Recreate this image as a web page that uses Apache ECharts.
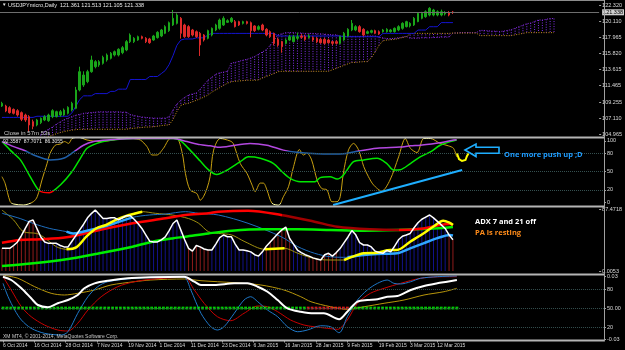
<!DOCTYPE html>
<html>
<head>
<meta charset="utf-8">
<script src="https://cdn.jsdelivr.net/npm/echarts@6.0.0/dist/echarts.min.js"></script>
<style>
html, body { margin: 0; padding: 0; background: #000; }
#main { width: 625px; height: 350px; }
</style>
</head>
<body>
<div id="main"></div>
<script>
var chartDom = document.getElementById('main');
var myChart = echarts.init(chartDom);

//------------- axis labels -------------
var tickIdx = [0, 8, 16, 24, 32, 40, 48, 56, 64, 72, 80, 88, 96, 104, 111];
var tickLabels = ['6 Oct 2014', '16 Oct 2014', '28 Oct 2014', '7 Nov 2014', '19 Nov 2014', '1 Dec 2014',
  '11 Dec 2014', '23 Dec 2014', '6 Jan 2015', '16 Jan 2015', '28 Jan 2015', '9 Feb 2015',
  '19 Feb 2015', '3 Mar 2015', '12 Mar 2015'];
var priceTicks = ['122.320', '120.110', '117.965', '115.820', '113.615', '111.465', '109.255', '107.110', '104.965'];
var oscTicks = ['100', '80', '50', '20', '0'];
var adxTicks = ['87.4718', '0.0053'];
var stoTickVals = [100.03, 80, 50, 20, -0.03];
var stoTickText = ['0.03', '80', '50.00', '20', '-0.03'];

//------------- price panel -------------
// [open, close, low, high]
var ohlc = [
  [108.73,109.09,108.60,109.30],[108.73,108.06,107.90,108.90],[108.51,107.84,107.70,108.70],[108.28,107.75,107.60,108.40],
  [108.10,107.52,107.30,108.30],[107.84,106.94,106.70,108.00],[107.52,106.85,106.60,107.70],[107.30,106.18,105.28,107.50],
  [106.63,106.00,105.60,106.90],[106.18,106.85,106.00,107.00],[106.49,107.07,106.30,107.20],[106.85,107.30,106.70,107.50],
  [106.76,107.52,106.60,107.70],[107.30,108.10,107.10,108.30],[107.30,107.97,107.20,108.10],[107.52,107.97,107.30,108.20],
  [107.52,108.19,107.40,108.40],[107.75,108.55,107.60,108.70],[108.19,109.09,108.00,109.30],[108.42,110.89,108.30,111.30],
  [110.89,113.35,110.70,114.02],[111.56,112.90,111.30,113.40],[112.01,113.35,111.80,113.60],[113.35,114.92,113.20,115.50],
  [114.02,114.70,113.80,114.90],[114.25,114.70,114.00,114.90],[114.47,115.28,114.30,115.50],[114.92,115.59,114.70,115.80],
  [115.15,115.82,115.00,116.00],[115.59,116.04,115.40,116.20],[115.59,116.36,115.40,116.50],[115.91,116.58,115.70,116.80],
  [116.27,117.39,116.10,117.60],[117.39,118.28,117.20,118.50],[117.39,117.84,117.20,118.00],[117.61,118.06,117.50,118.20],
  [118.06,117.84,117.70,118.20],[117.84,117.39,117.20,118.00],[117.75,117.25,117.10,117.90],[117.61,118.15,117.50,118.30],
  [117.93,118.64,117.80,118.80],[118.15,118.96,118.00,119.10],[118.51,119.41,118.40,119.60],[118.87,119.94,118.70,120.10],
  [119.63,120.53,119.50,121.65],[119.85,120.97,119.70,121.20],[120.53,118.51,117.80,120.70],[119.63,118.06,117.90,119.80],
  [119.41,118.06,117.90,119.60],[118.96,118.28,118.10,119.10],[118.73,118.06,117.90,118.90],[118.51,116.94,115.46,118.70],
  [118.28,117.61,117.40,118.40],[117.84,118.87,117.70,119.00],[118.28,119.18,118.10,119.30],[118.96,119.63,118.80,119.80],
  [119.18,120.30,119.00,120.50],[119.63,120.53,119.50,120.80],[119.99,120.21,119.90,120.40],[120.08,120.53,119.90,120.70],
  [120.08,119.41,119.30,120.30],[120.08,119.63,119.50,120.20],[119.85,120.08,119.70,120.20],[120.08,119.85,119.70,120.20],
  [119.94,118.87,117.97,120.10],[119.50,118.87,118.70,119.60],[119.05,119.41,118.90,119.60],[119.63,118.96,118.80,119.80],
  [119.05,118.28,118.10,119.20],[118.73,118.06,117.90,118.90],[118.51,117.16,116.90,118.60],[117.70,116.94,116.70,117.90],
  [117.39,116.71,115.90,117.50],[117.16,117.61,117.00,117.80],[117.61,118.06,117.50,118.30],[117.39,118.06,117.30,118.30],
  [117.84,118.06,117.60,118.60],[118.15,117.97,117.80,118.40],[118.06,117.70,117.50,118.30],[117.93,118.15,117.80,118.40],
  [117.93,117.61,117.40,118.10],[117.84,117.39,117.20,118.00],[117.70,117.25,117.10,117.90],[117.70,117.16,117.00,117.90],
  [117.61,117.25,117.10,117.80],[117.39,117.16,116.90,117.50],[117.39,117.16,117.00,117.60],[117.16,118.06,117.00,118.20],
  [117.61,118.51,117.50,118.70],[118.15,119.05,118.00,119.20],[118.96,119.85,118.80,120.30],[118.96,119.41,118.80,119.60],
  [119.41,118.73,118.60,119.60],[119.05,118.28,118.10,119.20],[118.51,118.73,118.40,118.90],[118.64,118.87,118.50,119.00],
  [118.87,118.51,118.40,119.00],[118.73,118.42,118.30,118.90],[118.73,118.96,118.60,119.10],[118.73,119.05,118.60,119.20],
  [118.73,118.96,118.60,119.10],[118.73,119.18,118.60,119.30],[118.96,119.41,118.80,119.60],[119.18,119.85,119.00,120.00],
  [119.41,120.08,119.30,120.20],[119.50,119.85,119.30,120.00],[119.63,120.53,119.50,120.70],[120.08,121.20,120.00,121.30],
  [120.53,121.20,120.40,121.40],[120.75,121.42,120.60,121.60],[120.97,121.87,120.80,122.03],[120.97,121.65,120.80,121.80],
  [120.97,121.42,120.80,121.60],[120.97,121.42,120.80,121.70],[121.11,121.29,120.90,121.50],[121.29,120.97,120.80,121.50],
  [121.361,121.338,121.105,121.513]
];
var lastClose = 121.338;

var kijun = [
  107.2,107.2,107.2,107.2,107.2,107.2,107.2,107.2,107.2,107.35,107.35,107.35,107.35,107.35,107.35,107.35,107.35,107.35,
  107.8,108.7,109.6,110.1,110.1,110.1,110.4,110.4,110.4,110.4,110.7,110.7,111.0,111.0,111.0,
  112.3,112.3,112.3,112.3,112.3,112.7,112.7,112.7,113.1,113.5,114.3,115.5,116.9,117.6,117.75,117.75,117.75,
  117.9,117.9,117.9,118.3,
  118.5,118.5,118.5,118.5,118.5,118.5,118.5,118.5,118.5,118.5,118.5,118.5,118.5,118.5,118.5,118.5,118.5,
  118.15,118.15,118.15,118.15,118.15,118.15,118.15,118.15,118.15,118.15,118.15,118.15,118.15,118.15,118.15,118.15,118.15,
  118.05,118.05,118.05,118.05,118.05,118.05,118.05,118.05,118.05,118.05,
  118.5,118.5,118.5,118.5,118.5,118.5,118.5,118.5,118.5,
  118.95,118.95,118.95,119.4,119.4,119.4,119.95,119.95,119.95,119.95
];

// cloud, from bar 10 to bar 142 (26 bars ahead)
var cloudStart = 10;
var spanA = [
  104.9,105.3,105.6,105.9,106.3,106.6,106.9,107.1,107.3,107.5,
  107.6,107.75,107.8,107.85,107.9,107.95,107.95,107.95,107.95,107.95,
  107.95,107.9,107.9,107.6,107.45,107.35,107.25,107.2,107.15,107.1,
  107.1,107.1,107.1,107.3,108.2,109.0,109.5,109.9,110.2,110.35,
  110.5,111.0,111.6,112.2,112.6,113.0,113.2,113.3,113.4,114.5,
  114.6,114.75,114.9,115.0,115.2,115.4,115.7,116.0,116.3,116.9,
  117.6,118.3,118.45,118.6,118.6,118.6,118.55,118.55,118.5,118.5,
  118.5,118.45,118.45,118.4,118.35,118.3,118.3,118.15,118.1,118.1,
  118.1,118.1,118.1,118.1,118.15,118.15,118.15,118.0,117.9,117.8,
  117.8,117.85,117.9,118.0,118.1,117.85,117.85,117.85,117.9,117.9,
  117.9,117.95,117.95,118.0,118.0,118.0,118.55,118.55,118.6,118.6,
  118.6,118.6,118.6,118.9,118.9,118.85,118.8,118.8,118.75,118.8,
  118.9,119.0,119.2,119.4,119.6,119.8,119.9,120.1,120.3,120.3,
  120.4,120.5,120.5
];
var spanB = [
  104.3,104.45,104.6,104.8,105.0,105.15,105.3,105.4,105.5,105.55,
  105.6,105.6,105.6,105.6,105.6,105.6,105.6,105.6,105.6,105.6,
  105.6,105.6,105.6,105.7,105.75,105.8,105.85,105.9,105.9,105.95,
  106.0,106.1,106.15,106.2,106.9,108.0,108.8,109.0,109.1,109.3,
  109.5,109.7,109.95,110.2,110.6,110.9,111.2,111.5,111.8,112.0,
  112.05,112.1,112.15,112.2,112.2,112.2,112.25,112.5,112.7,112.9,
  113.1,113.35,113.4,113.4,113.4,113.4,113.4,113.4,113.4,113.4,
  113.4,113.4,113.4,113.4,113.4,113.6,113.8,114.0,114.2,114.4,
  114.6,114.6,114.65,114.7,114.7,115.2,116.0,116.9,117.5,117.6,
  117.65,117.7,117.8,117.95,118.05,118.45,118.5,118.5,118.5,118.5,
  118.5,118.5,118.5,118.5,118.5,118.5,118.55,118.55,118.55,118.55,
  118.55,118.55,118.55,118.2,118.2,118.2,118.2,118.2,118.2,118.2,
  118.2,118.2,118.3,118.4,118.5,118.6,118.6,118.6,118.6,118.6,
  118.6,118.6,118.6
];

//------------- oscillator panel [bar, value] -------------
var osc1 = [[0,41.5],[0.8,30.6],[2.1,0.5],[3,-3.3],[5.5,-4.9],[8,0.5],[9,8.7],[10.2,36],[11.5,63],[12.3,80],
  [13.6,93],[14.9,95],[16,99],[17,96],[17.9,104],[19.5,106],[21.7,101.6],[25,99],[28.4,101.6],[32,106],[33.5,104],
  [35.3,101.6],[37,90.7],[38.3,77],[39.5,77],[41.2,88],[43,104],[44.6,104],[46,80],[46.8,47],[48,19.7],[49.7,14],
  [50.6,3],[51.4,8.7],[52.3,22],[53.1,41.5],[54,85],[55.7,104],[58.2,100],[59,96],[60.8,63],[62.5,47],[63.8,28],
  [64.6,17],[65.9,31],[66.7,31],[67.6,20],[68.9,-2],[70.6,-5],[71.8,8.7],[73.1,25],[74.4,58],[75.9,86],[76.9,77],
  [77.8,80],[79,69],[80.4,36],[81.6,22],[82.9,20],[84.2,0.5],[85.5,0.5],[86.3,8.7],[87.1,47],[88.4,85],[89.7,96],
  [91,85],[92.3,58],[93.5,41.5],[94.8,28],[96.9,18],[99,36],[101.2,74],[102.9,104],[104.2,88],[105.9,81],
  [107.6,104],[109.3,104],[111.8,96],[113.9,92],[115.2,88],[116,74]];
var osc2 = [[0,99],[2.1,85],[4.7,69],[7.2,41.5],[9.3,19.7],[10.6,15.8],[12.1,15.3],[14.9,28],[17.9,50],[20,71.6],
  [21.7,88],[24.2,96],[26.8,100.5],[33.5,104],[43.7,104],[45.5,100.5],[48,85],[50.6,67],[52.3,55],[54.8,45],
  [57.4,52],[60.8,66],[62.9,74],[65.9,71.6],[69.3,63],[71.4,50],[73.5,38.8],[76.1,33.3],[79.9,33.3],[81.2,40],
  [83.7,41.5],[85.5,37.7],[87.1,44],[89.7,66],[92.3,69],[95.7,71.6],[98.2,63],[99.9,52.5],[101.6,53],[104.2,63],
  [106.7,74],[109.3,82],[111.8,93],[114.4,99],[116,101.6]];
var osc3 = [[0,99],[3,90.7],[5.9,84],[8.1,77],[12.3,69],[15.7,71.6],[18.3,82],[20.8,93],[23.4,99],[26.8,101.6],
  [35.3,104],[43.7,104],[47.2,99],[50.6,94],[53.1,92],[55.7,89.6],[63.3,96],[67.6,93],[71.8,85],[75.3,81.5],
  [80.4,79],[84.6,78.7],[87.1,79],[89.7,82],[95.7,88],[101.6,90],[104.2,92],[106.7,93],[111.8,97],[115.2,101.6],[116,102]];
var trendLine = [[84.5,-5],[117.4,52.5]];

//------------- ADX panel -------------
var adx = [32,32,32,36,41,50,60,70,72,60,48,41,39,39,39,36,34,34,42,50,58,66,75,81,86,80,74,74,75,75,
  72,75,78,78,73,67,60,51,42,41,41,44,48,57,67,72,58,44,32,28,36,34,31,29.6,29.6,38,47,50.8,48.4,48.4,
  38,29.6,29.6,28.5,27,23,21,27,35,41,47,53,58,62,46,38,29.6,26,23,21,18.5,17,15.5,23,25,21,26,32,40,48,
  57,51,40,36.7,36.7,34,28,26,25,29,27,35,44,49,50.8,53,61,68,73,76,79,75,70,65,60,51,44];
var histSide = [[10,'r'],[38,'b'],[6,'r'],[14,'b'],[7,'r'],[4,'b'],[8,'r'],[28,'b'],[2,'r']];
var diPlus = [[0,86],[3,72],[5.5,55.5],[8.9,53],[10.6,48.4],[14,34.3],[16.6,30.6],[19.1,33.4],[21.7,48.4],[24.2,60],
  [26.8,65],[29.3,72],[32.7,79],[36.1,83.7],[39.5,81.4],[43.8,79],[48,74],[50.6,67.3],[53.1,55.5],[55.7,53],
  [59.1,50.8],[62.5,41.3],[67.6,30.6],[72.7,32],[76.1,25],[78.7,20],[81.2,16.5],[84.6,15.5],[88,15.5],[89.7,19.3],
  [93.1,25],[96.5,25.8],[99.9,29.6],[101.6,29.6],[105,41.3],[108.4,53],[110.9,62.5],[113.5,71],[115.2,68],[116,65]];
var diSlow = [[0,81.4],[4.7,74],[8.1,67],[12.3,60],[16.6,55.5],[18.3,53],[20.8,55.5],[25.1,61],[29.3,68],[33.6,75.7],
  [37.9,79],[42.1,80.4],[47.2,83.7],[50.6,81.4],[55.7,79],[63.3,67.3],[71.8,48.4],[76.1,34.3],[80.4,25],[84.6,20],
  [88.9,19.3],[93.1,22.6],[96.5,24],[101.6,25],[105,32],[108.4,39],[111.8,46],[115.2,50.8],[116,50]];
var adxSlowRed = [[0,40],[4.7,43.7],[9.8,44.7],[16.6,47.5],[25.1,57.8],[33.6,67.3],[42.1,74.3],[47.2,79],[53.1,81.4],
  [55.7,83.7],[63.3,85],[71.8,79],[80.4,69.6],[86.3,62.5],[94.8,58.8],[101.6,57.8],[108.4,60],[112.7,65],[115.2,66.3],[116,65]];
var adxSlowGreen = [[0,7],[8.1,10.8],[16.6,16.5],[25.1,25],[33.6,34.3],[38.7,41.3],[43.8,46],[47.2,48.4],[53.1,53],
  [59.1,56.9],[67.6,58.8],[76.1,58.8],[84.6,57.8],[93.1,56.9],[101.6,57.8],[110,59.5],[116,62]];
var yellowBold = [[16,37],[66,75],[88,117]];
var blueBold = [[16,34],[86,117]];

//------------- bottom panel -------------
var sto1 = [[0,99.5],[2.1,94.3],[4.7,81.2],[7.2,65.4],[8.9,54.8],[11.5,51.2],[14,57.5],[16.6,62.7],[19.1,70.6],[20.8,81.2],
  [23.4,89],[26.8,93.2],[31.9,97],[37.8,98.6],[46.3,99.5],[48.9,91.6],[50.6,86.4],[54,86.4],[59.1,89],[62.5,89],
  [65.1,83.7],[67.6,75.8],[70.2,62.7],[72.7,49.6],[76.1,44.2],[79.5,41.7],[82,41.7],[85.9,32.2],[88,44.2],[90.6,60],
  [93.1,62.7],[95.7,63.8],[98.2,67.9],[100.8,69],[104.2,78.5],[107.6,84.8],[111,89],[113.5,91.6],[116,94.3]];
var sto2 = [[0,102],[3.8,97],[8.1,83.7],[12.3,73.3],[15.7,70.6],[19.1,73.3],[23.4,78.5],[27.6,86.4],[33.6,91.6],[37.8,94.3],
  [46.3,95.9],[50.6,93.2],[59.1,90],[65.9,86.4],[71.8,78.5],[76.1,67.9],[78.7,60],[83.7,52.1],[88,48],[92.3,52.1],
  [97.4,57.5],[102.5,62.7],[107.6,70.6],[112.7,75.8],[116,81.2]];
var sto3 = [[0,99.5],[2.1,78.5],[4.7,52.1],[7.2,36.3],[10.6,23.2],[14,15.3],[16.6,13.7],[19.1,25.9],[21.7,46.9],[25.1,67.9],
  [29.3,83.7],[33.6,91.6],[37.8,95.4],[46.3,98.6],[48.9,78.5],[51.4,57.5],[54.8,36.3],[58.2,30],[61.6,41.7],[65.1,53.2],
  [67.6,52.1],[70.2,44.2],[73.5,31.1],[76.9,23.2],[79.5,20.5],[82.9,18],[85.5,16.4],[88,31.1],[90.6,57.5],[93.9,73.3],
  [97.4,81.2],[101.6,89],[106.7,97],[112.7,99.5],[116,99.5]];
var sto4 = [[0,89],[1.3,67.9],[3,46.9],[4.7,31.1],[7.2,18],[10.6,10.1],[14.9,7.4],[16.6,12.6],[19.1,41.7],[21.7,67.9],
  [24.2,83.7],[26.8,91.6],[33.6,97],[42.1,99.5],[46.3,98.6],[48,78.5],[50.6,41.7],[53.1,20.5],[54.8,15.3],[56.5,20.5],
  [59.1,41.7],[61.6,62.7],[63.3,67.9],[65.1,60],[67.6,46.9],[70.2,36.3],[72.7,20.5],[75.3,12.6],[77.8,15.3],[81.2,22],
  [83.7,20.5],[85.9,11],[88,36.3],[90.6,62.7],[93.1,78.5],[95.7,89],[98.2,94.3],[99.9,89],[101.6,88],[104.2,91.6],
  [106.7,97],[111,99.5],[116,100.6]];
var dotLevel = 50;
var dotSide = [[78,'g'],[11,'r'],[28,'g']];

//------------- build -------------
function expand(runs) {
  var out = [];
  runs.forEach(function (r) { for (var k = 0; k < r[0]; k++) out.push(r[1]); });
  return out;
}
function pick(points, ranges) {
  var out = [];
  ranges.forEach(function (r, j) {
    if (j > 0) out.push(['-', '-']);
    points.forEach(function (p) { if (p[0] >= r[0] && p[0] <= r[1]) out.push(p); });
  });
  return out;
}
function labelFmt(vals, texts) {
  return function (v) {
    for (var i = 0; i < vals.length; i++) { if (Math.abs(vals[i] - v) < 1e-9) return texts[i]; }
    return '';
  };
}
var tinyFont = 'Liberation Sans';

function xAx(gi, labels) {
  var ax = { type: 'value', gridIndex: gi, min: -0.5, max: 153.6,
    splitLine: { show: false }, axisLine: { show: false, onZero: false },
    axisTick: { show: false }, axisLabel: { show: false } };
  if (labels) {
    ax.axisTick = { show: true, customValues: tickIdx, length: 2, lineStyle: { color: '#a0a0a0' } };
    ax.axisLabel = { show: true, customValues: tickIdx, align: 'left', margin: 3,
      color: '#d8d8d8', fontSize: 5, fontFamily: tinyFont,
      formatter: function (v) { return tickLabels[tickIdx.indexOf(v)]; } };
  }
  return ax;
}
function yAx(gi, min, max, texts, vals) {
  vals = vals || texts.map(Number);
  return { type: 'value', gridIndex: gi, position: 'right', min: min, max: max, scale: true,
    splitLine: { show: false }, axisLine: { show: false, onZero: false },
    axisTick: { show: true, customValues: vals, length: 2, lineStyle: { color: '#a0a0a0' } },
    axisLabel: { customValues: vals, margin: 3, color: '#d8d8d8', fontSize: 5.5, fontFamily: tinyFont,
      formatter: labelFmt(vals, texts) } };
}

var candleData = ohlc.map(function (d, i) { return [i, d[0], d[1], d[2], d[3]]; });
var kijunData = kijun.map(function (v, i) { return [i, v]; });
var cloudData = spanA.map(function (a, i) { return [cloudStart + i, a, spanB[i]]; });
var spanAData = spanA.map(function (a, i) { return [cloudStart + i, a]; });
var spanBData = spanB.map(function (b, i) { return [cloudStart + i, b]; });
var histColors = expand(histSide);
var histData = adx.map(function (v, i) { return [i, v]; });
var dotColors = expand(dotSide);
var dotData = dotColors.map(function (c, i) { return [i, dotLevel]; });

var levelLine = function (levels) {
  return { silent: true, symbol: 'none', label: { show: false },
    lineStyle: { type: 'dotted', color: '#355050', width: 1 },
    data: levels.map(function (l) { return { yAxis: l }; }) };
};

var series = [
  { type: 'custom', xAxisIndex: 0, yAxisIndex: 0, clip: true, data: cloudData, z: 1,
    encode: { x: 0, y: [1, 2] },
    renderItem: function (params, api) {
      var x = api.value(0);
      var p1 = api.coord([x, api.value(1)]);
      var p2 = api.coord([x, api.value(2)]);
      return { type: 'line', shape: { x1: p1[0], y1: p1[1], x2: p2[0], y2: p2[1] },
        style: { stroke: '#7f2fe6', lineWidth: 1, lineDash: [1, 1.5] } };
    } },
  { type: 'line', xAxisIndex: 0, yAxisIndex: 0, data: spanAData, symbol: 'none', z: 2,
    lineStyle: { color: '#8a2be2', width: 1, type: [1, 1.5] } },
  { type: 'line', xAxisIndex: 0, yAxisIndex: 0, data: spanBData, symbol: 'none', z: 2,
    lineStyle: { color: '#c8901e', width: 1, type: [1, 1.5] } },
  { type: 'line', xAxisIndex: 0, yAxisIndex: 0, data: kijunData, symbol: 'none', z: 3,
    lineStyle: { color: '#1414d2', width: 1 } },
  { type: 'candlestick', xAxisIndex: 0, yAxisIndex: 0, data: candleData, z: 4,
    dimensions: ['bar', 'open', 'close', 'low', 'high'],
    encode: { x: 'bar', y: ['open', 'close', 'low', 'high'] },
    barWidth: 2,
    itemStyle: { color: '#1aa51a', color0: '#dd2a2a', borderColor: '#1aa51a', borderColor0: '#dd2a2a', borderWidth: 1 },
    markLine: { silent: true, symbol: 'none', data: [{ yAxis: lastClose }],
      lineStyle: { color: '#6e6e6e', type: 'solid', width: 1 },
      label: { show: true, position: 'end', distance: 3, formatter: String(lastClose),
        color: '#000', backgroundColor: '#d0d0d0', fontSize: 5.5, fontFamily: tinyFont, padding: [0, 1] } } },

  // oscillator panel
  { type: 'line', xAxisIndex: 1, yAxisIndex: 1, data: osc1, symbol: 'none', smooth: 0.3, z: 3,
    lineStyle: { width: 1 } },
  { type: 'line', xAxisIndex: 1, yAxisIndex: 1, data: osc2, symbol: 'none', smooth: 0.3, z: 4,
    lineStyle: { width: 1.5 } },
  { type: 'line', xAxisIndex: 1, yAxisIndex: 1, data: osc3, symbol: 'none', smooth: 0.3, z: 4,
    lineStyle: { width: 1.5 } },
  { type: 'line', xAxisIndex: 1, yAxisIndex: 1, data: trendLine, symbol: 'none', z: 5,
    lineStyle: { color: '#1eaeff', width: 2 }, markLine: levelLine([80, 50, 20]) },

  // ADX panel
  { type: 'bar', xAxisIndex: 2, yAxisIndex: 2, data: histData, barWidth: 1, z: 1,
    itemStyle: { color: function (p) { return histColors[p.dataIndex] === 'r' ? '#8e1c1c' : '#12128a'; } } },
  { type: 'line', xAxisIndex: 2, yAxisIndex: 2, data: diPlus, symbol: 'none', smooth: 0.3, z: 3,
    lineStyle: { color: '#a0900f', width: 1 } },
  { type: 'line', xAxisIndex: 2, yAxisIndex: 2, data: diSlow, symbol: 'none', smooth: 0.3, z: 3,
    lineStyle: { color: '#1f6fc0', width: 1 } },
  { type: 'line', xAxisIndex: 2, yAxisIndex: 2, data: adxSlowGreen, symbol: 'none', smooth: 0.3, z: 4,
    lineStyle: { color: '#00ee00', width: 2.5 } },
  { type: 'line', xAxisIndex: 2, yAxisIndex: 2, data: adxSlowRed, symbol: 'none', smooth: 0.3, z: 5,
    lineStyle: { width: 2.5 } },
  { type: 'line', xAxisIndex: 2, yAxisIndex: 2, data: pick(diSlow, blueBold), symbol: 'none', smooth: 0.3, z: 6,
    lineStyle: { color: '#2fa6ff', width: 2.5 } },
  { type: 'line', xAxisIndex: 2, yAxisIndex: 2, data: pick(diPlus, yellowBold), symbol: 'none', smooth: 0.3, z: 6,
    lineStyle: { color: '#ffff00', width: 2.5 } },
  { type: 'line', xAxisIndex: 2, yAxisIndex: 2, data: histData, symbol: 'none', z: 7,
    lineStyle: { color: '#ffffff', width: 1.5 } },

  // bottom panel
  { type: 'line', xAxisIndex: 3, yAxisIndex: 3, data: sto2, symbol: 'none', smooth: 0.3, z: 3,
    lineStyle: { color: '#b8960b', width: 1 }, markLine: levelLine([80, 50, 20]) },
  { type: 'line', xAxisIndex: 3, yAxisIndex: 3, data: sto3, symbol: 'none', smooth: 0.3, z: 3,
    lineStyle: { color: '#c80000', width: 1 } },
  { type: 'line', xAxisIndex: 3, yAxisIndex: 3, data: sto4, symbol: 'none', smooth: 0.3, z: 3,
    lineStyle: { color: '#1e78c8', width: 1 } },
  { type: 'scatter', xAxisIndex: 3, yAxisIndex: 3, data: dotData, symbol: 'rect', symbolSize: 2.8, z: 4,
    itemStyle: { color: function (p) { return dotColors[p.dataIndex] === 'r' ? '#ff2020' : '#00ff00'; } } },
  { type: 'line', xAxisIndex: 3, yAxisIndex: 3, data: sto1, symbol: 'none', smooth: 0.3, z: 5,
    lineStyle: { color: '#ffffff', width: 2 } }
];

var txt = function (x, y, s, color, size, bold) {
  return { type: 'text', x: x, y: y, z: 120,
    style: { text: s, fill: color, font: (bold ? 'bold ' : '') + size + 'px ' + (bold ? 'Open Sans' : tinyFont),
      verticalAlign: 'middle', textVerticalAlign: 'middle' } };
};
var hline = function (y, w, c) {
  return { type: 'line', z: 110, shape: { x1: 0, y1: y, x2: 604, y2: y }, style: { stroke: c, lineWidth: w } };
};

option = {
  backgroundColor: '#000',
  animation: false,
  grid: [
    { left: 0, width: 604, top: 1, height: 136 },
    { left: 0, width: 604, top: 137.3, height: 69 },
    { left: 0, width: 604, top: 207, height: 67 },
    { left: 0, width: 604, top: 275.5, height: 65 }
  ],
  xAxis: [xAx(0, false), xAx(1, false), xAx(2, false), xAx(3, true)],
  yAxis: [
    yAx(0, 104.562, 122.858, priceTicks),
    yAx(1, -7, 106, oscTicks),
    yAx(2, -4.23, 90.29, adxTicks),
    yAx(3, -1.26, 101.4, stoTickText, stoTickVals)
  ],
  visualMap: [
    { type: 'piecewise', show: false, seriesIndex: 5, dimension: 1,
      pieces: [{ lt: -1.5, color: '#ffffa0' }, { gte: -1.5, lte: 103, color: '#c8a010' }, { gt: 103, color: '#ffffa0' }] },
    { type: 'piecewise', show: false, seriesIndex: 6, dimension: 1,
      pieces: [{ lt: 18, color: '#ff0000' }, { gte: 18, lte: 200, color: '#00e600' }, { gt: 200, color: '#00e600' }] },
    { type: 'piecewise', show: false, seriesIndex: 7, dimension: 1,
      pieces: [{ lt: 83, color: '#1f5fa8' }, { gte: 83, lte: 200, color: '#b348e0' }, { gt: 200, color: '#b348e0' }] },
    { type: 'piecewise', show: false, seriesIndex: 13, dimension: 0,
      pieces: [{ lt: 72, color: '#ff0000' }, { gte: 72, lt: 102, color: '#a00000' }, { gte: 102, color: '#ff0000' }] }
  ],
  series: series,
  graphic: [
    hline(0.5, 1, '#8c8c8c'),
    hline(137.5, 2, '#b4b4b4'),
    hline(206.5, 2, '#b4b4b4'),
    hline(274.5, 2, '#b4b4b4'),
    hline(340.5, 2, '#b4b4b4'),
    { type: 'line', z: 110, shape: { x1: 604.5, y1: 0, x2: 604.5, y2: 341.5 }, style: { stroke: '#a0a0a0', lineWidth: 1 } },
    txt(2, 5, '\u25BC', '#e8e8e8', 4.5, false),
    txt(8, 5, 'USDJPYmicro,Daily  121.361 121.513 121.105 121.338', '#e8e8e8', 5.5, false),
    txt(4, 133, 'Close in 57m 53s', '#d0d0d0', 6, false),
    txt(3, 142, '92.3587  87.7071  86.3055', '#e8e8e8', 5, false),
    txt(504, 155, 'One more push up ;D', '#1e9cff', 7.5, true),
    txt(475, 222, 'ADX 7 and 21 off', '#ffffff', 7.5, true),
    txt(475, 233, 'PA is resting', '#ff8c1a', 7.5, true),
    txt(3, 336.5, 'XM MT4, \u00A9 2001-2014, MetaQuotes Software Corp.', '#c8c8c8', 5, false),
    { type: 'polygon', z: 115,
      shape: { points: [[465, 150], [476, 144], [476, 147.3], [499, 147.3], [499, 153.3], [476, 153.3], [476, 156.5]] },
      style: { fill: null, stroke: '#1eaeff', lineWidth: 1.6 } },
    { type: 'polyline', z: 115,
      shape: { points: [[457, 153.5], [459, 159], [462, 161], [465.5, 160], [467, 156], [468.5, 153.5]] },
      style: { fill: null, stroke: '#ffff00', lineWidth: 2 } }
  ]
};
option && myChart.setOption(option);
</script>
</body>
</html>
